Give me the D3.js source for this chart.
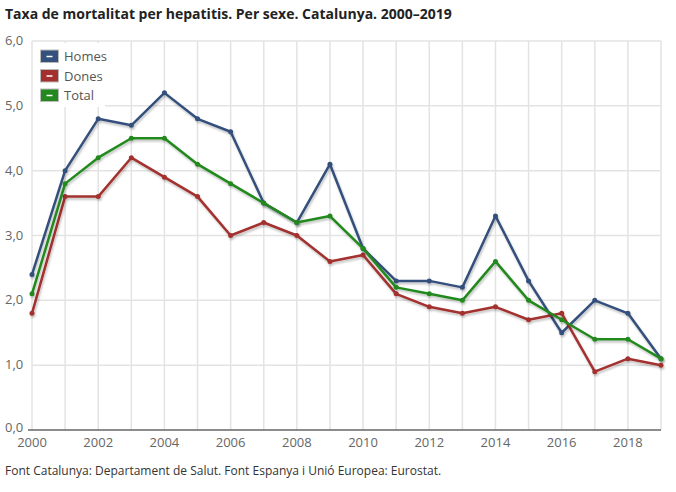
<!DOCTYPE html>
<html>
<head>
<meta charset="utf-8">
<script src="https://cdn.jsdelivr.net/npm/d3@7"></script>
<style>
  body { margin:0; background:#fff; font-family:"Open Sans", sans-serif; }
</style>
</head>
<body>
<svg id="board" width="676" height="492"></svg>
<script>
var years  = [2000,2001,2002,2003,2004,2005,2006,2007,2008,2009,2010,2011,2012,2013,2014,2015,2016,2017,2018,2019];
var homes  = [2.4,4.0,4.8,4.7,5.2,4.8,4.6,3.5,3.2,4.1,2.8,2.3,2.3,2.2,3.3,2.3,1.5,2.0,1.8,1.1];
var dones  = [1.8,3.6,3.6,4.2,3.9,3.6,3.0,3.2,3.0,2.6,2.7,2.1,1.9,1.8,1.9,1.7,1.8,0.9,1.1,1.0];
var total  = [2.1,3.8,4.2,4.5,4.5,4.1,3.8,3.5,3.2,3.3,2.8,2.2,2.1,2.0,2.6,2.0,1.7,1.4,1.4,1.1];
var yTicks = [0,1,2,3,4,5,6];
var xTicks = [2000,2002,2004,2006,2008,2010,2012,2014,2016,2018];

var series = [
  {name:"Homes", values:homes, color:"#34507c"},
  {name:"Dones", values:dones, color:"#a3302f"},
  {name:"Total", values:total, color:"#23891f"}
];

var board = d3.select("#board");
var pLeft = 32, pRight = 661, pTop = 41, pBottom = 430;

var x = d3.scaleLinear().domain([2000,2019]).range([pLeft,pRight]);
var y = d3.scaleLinear().domain([0,6]).range([pBottom,pTop]);
var fmt = function(d){ return d3.format(".1f")(d).replace(".", ","); };

// shadow
var defs = board.append("defs");
var f = defs.append("filter").attr("id","shadow").attr("x","-5%").attr("y","-5%").attr("width","110%").attr("height","120%");
f.append("feGaussianBlur").attr("in","SourceAlpha").attr("stdDeviation",1.2);
f.append("feOffset").attr("dx",1).attr("dy",2).attr("result","b");
f.append("feComponentTransfer").append("feFuncA").attr("type","linear").attr("slope",0.25);
var m = f.append("feMerge");
m.append("feMergeNode");
m.append("feMergeNode").attr("in","SourceGraphic");

// title
board.append("text")
  .attr("x",5).attr("y",19)
  .attr("font-size",14).attr("font-weight","bold").attr("fill","#222")
  .text("Taxa de mortalitat per hepatitis. Per sexe. Catalunya. 2000\u20132019");

// grid
board.append("g").selectAll("line").data(years).join("line")
  .attr("x1",function(d){return x(d);}).attr("x2",function(d){return x(d);})
  .attr("y1",pTop).attr("y2",pBottom)
  .attr("stroke","#e3e3e3").attr("stroke-width",1.5);
board.append("g").selectAll("line").data(yTicks.slice(1)).join("line")
  .attr("x1",pLeft).attr("x2",pRight)
  .attr("y1",function(d){return y(d);}).attr("y2",function(d){return y(d);})
  .attr("stroke","#e3e3e3").attr("stroke-width",1.5);

// y labels
board.append("g").selectAll("text").data(yTicks).join("text")
  .attr("x",5).attr("y",function(d){return y(d)+(d===0?2:4);})
  .attr("font-size",13).attr("fill","#666")
  .text(fmt);

// x axis
board.append("line")
  .attr("x1",pLeft-4).attr("x2",pRight).attr("y1",pBottom).attr("y2",pBottom)
  .attr("stroke","#666").attr("stroke-width",1.5);
board.append("g").selectAll("text").data(xTicks).join("text")
  .attr("x",function(d){return x(d);}).attr("y",pBottom+17)
  .attr("text-anchor","middle").attr("font-size",13).attr("fill","#666")
  .text(function(d){return d;});

// lines
var line = d3.line().x(function(d,i){return x(years[i]);}).y(function(d){return y(d);});
series.forEach(function(s){
  var g = board.append("g").attr("filter","url(#shadow)");
  g.append("path").attr("d",line(s.values))
    .attr("fill","none").attr("stroke",s.color).attr("stroke-width",2.5)
    .attr("stroke-linejoin","round");
  g.selectAll("circle").data(s.values).join("circle")
    .attr("cx",function(d,i){return x(years[i]);})
    .attr("cy",function(d){return y(d);})
    .attr("r",2.5).attr("fill",s.color);
});

// legend
var lg = board.append("g");
lg.append("rect").attr("x",33).attr("y",43).attr("width",72).attr("height",64).attr("fill","#fff");
series.forEach(function(s,i){
  var yy = 50 + i*19.5;
  lg.append("rect").attr("x",40.5).attr("y",yy).attr("width",18).attr("height",12.5)
    .attr("fill",s.color).attr("stroke","#bbb").attr("stroke-width",1);
  lg.append("line").attr("x1",46.5).attr("x2",52.5).attr("y1",yy+6.5).attr("y2",yy+6.5)
    .attr("stroke","#fff").attr("stroke-width",1.5);
  lg.append("text").attr("x",64).attr("y",yy+11)
    .attr("font-size",13).attr("fill","#555").text(s.name);
});

// source
board.append("text")
  .attr("x",5).attr("y",475)
  .attr("font-size",12).attr("fill","#333")
  .text("Font Catalunya: Departament de Salut. Font Espanya i Unió Europea: Eurostat.");
</script>
</body>
</html>
